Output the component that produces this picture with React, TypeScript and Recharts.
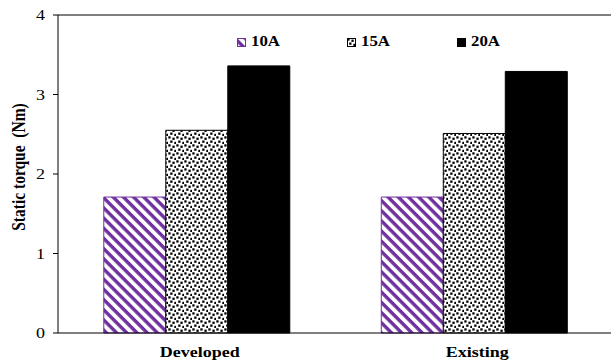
import { BarChart, Bar, XAxis, YAxis, Legend, ReferenceLine, Label } from 'recharts'

const categories = ['Developed', 'Existing']
const current10A = [1.71, 1.71]
const current15A = [2.55, 2.51]
const current20A = [3.36, 3.29]
const yTicks = [0, 1, 2, 3, 4]
const separatorTicks = [0, 1, 2]

const PURPLE = '#7030A0'
const FONT = '"Liberation Serif", "Times New Roman", serif'
// the reference text is a bit stretched sideways
const STRETCH = 1.2

const data = categories.map((name, i) => ({
  name,
  a10: current10A[i],
  a15: current15A[i],
  a20: current20A[i],
}))

const legendItems = [
  { label: '10A', fill: 'url(#stripes)', stroke: PURPLE },
  { label: '15A', fill: 'url(#dots)', stroke: '#000' },
  { label: '20A', fill: '#000', stroke: '#000' },
]

function Patterns() {
  return (
    <svg width={0} height={0} style={{ position: 'absolute' }}>
      <defs>
        <pattern id="stripes" patternUnits="userSpaceOnUse" width={7.2} height={7.2} patternTransform="rotate(45)">
          <rect width={7.2} height={7.2} fill="#fff" />
          <rect width={7.2} height={3.4} fill={PURPLE} />
        </pattern>
        <pattern id="dots" patternUnits="userSpaceOnUse" width={8} height={8}>
          <rect width={8} height={8} fill="#fff" />
          <rect x={0.3} y={0.3} width={2.3} height={2.3} fill="#000" />
          <rect x={4.4} y={1.6} width={2.3} height={2.3} fill="#000" />
          <rect x={2.2} y={4.5} width={2.3} height={2.3} fill="#000" />
          <rect x={6.3} y={5.8} width={2.3} height={2.3} fill="#000" />
        </pattern>
      </defs>
    </svg>
  )
}

function LegendContent() {
  return (
    <div style={{ display: 'flex', fontFamily: FONT, fontWeight: 'bold', fontSize: 14, color: '#000' }}>
      {legendItems.map((item) => (
        <div key={item.label} style={{ width: 110, display: 'flex', alignItems: 'center' }}>
          <svg width={9} height={9} style={{ marginRight: 5 }}>
            <rect x={0.5} y={0.5} width={8} height={8} fill={item.fill} stroke={item.stroke} />
          </svg>
          <span style={{ display: 'inline-block', transform: `scaleX(${STRETCH})`, transformOrigin: 'left center' }}>
            {item.label}
          </span>
        </div>
      ))}
    </div>
  )
}

function CategoryTick({ x, y, payload }: any) {
  return (
    <g transform={`translate(${x + 3},${y}) scale(${STRETCH},1)`}>
      <text x={0} y={0} dy={10} textAnchor="middle" fontFamily={FONT} fontWeight="bold" fontSize={15} fill="#000">
        {payload.value}
      </text>
    </g>
  )
}

function ValueTick({ x, y, payload }: any) {
  return (
    <g transform={`translate(${x},${y}) scale(${STRETCH},1)`}>
      <text x={0} y={0} dy="0.35em" textAnchor="end" fontFamily={FONT} fontSize={15} fill="#000">
        {payload.value}
      </text>
    </g>
  )
}

export default function App() {
  return (
    <div style={{ position: 'absolute', left: 0, top: 0, width: 611, height: 362, background: '#fff' }}>
      <Patterns />
      <BarChart
        width={611}
        height={362}
        data={data}
        margin={{ top: 15, right: -2, left: 0, bottom: 0 }}
        barCategoryGap="16.5%"
        barGap={0}
      >
        <XAxis
          xAxisId="sep"
          type="number"
          domain={[0, 2]}
          ticks={separatorTicks}
          tick={false}
          tickSize={5}
          height={0}
          axisLine={false}
          tickLine={{ stroke: '#000' }}
        />
        <XAxis
          dataKey="name"
          height={29}
          tickLine={false}
          axisLine={{ stroke: '#000' }}
          tickMargin={8}
          tick={<CategoryTick />}
        />
        <YAxis
          domain={[0, 4]}
          ticks={yTicks}
          width={58}
          tickSize={5}
          tickMargin={8}
          axisLine={{ stroke: '#000' }}
          tickLine={{ stroke: '#000' }}
          tick={<ValueTick />}
        >
          <Label
            content={({ viewBox }: any) => {
              const cx = viewBox.x + 19
              const cy = viewBox.y + viewBox.height / 2 - 7
              return (
                <g transform={`translate(${cx},${cy}) rotate(-90) scale(1,${STRETCH})`}>
                  <text
                    x={0}
                    y={0}
                    textAnchor="middle"
                    dominantBaseline="central"
                    fontFamily={FONT}
                    fontWeight="bold"
                    fontSize={15.5}
                    fill="#000"
                    style={{ whiteSpace: 'pre' }}
                  >
                    Static torque  (Nm)
                  </text>
                </g>
              )
            }}
          />
        </YAxis>
        <ReferenceLine y={4} stroke="#000" />
        <Legend
          layout="vertical"
          verticalAlign="middle"
          align="center"
          content={<LegendContent />}
          wrapperStyle={{ top: 34, left: 237, width: 'auto' }}
        />
        <Bar dataKey="a10" name="10A" fill="url(#stripes)" stroke={PURPLE} isAnimationActive={false} />
        <Bar dataKey="a15" name="15A" fill="url(#dots)" stroke="#000" isAnimationActive={false} />
        <Bar dataKey="a20" name="20A" fill="#000" stroke="#000" isAnimationActive={false} />
      </BarChart>
    </div>
  )
}
